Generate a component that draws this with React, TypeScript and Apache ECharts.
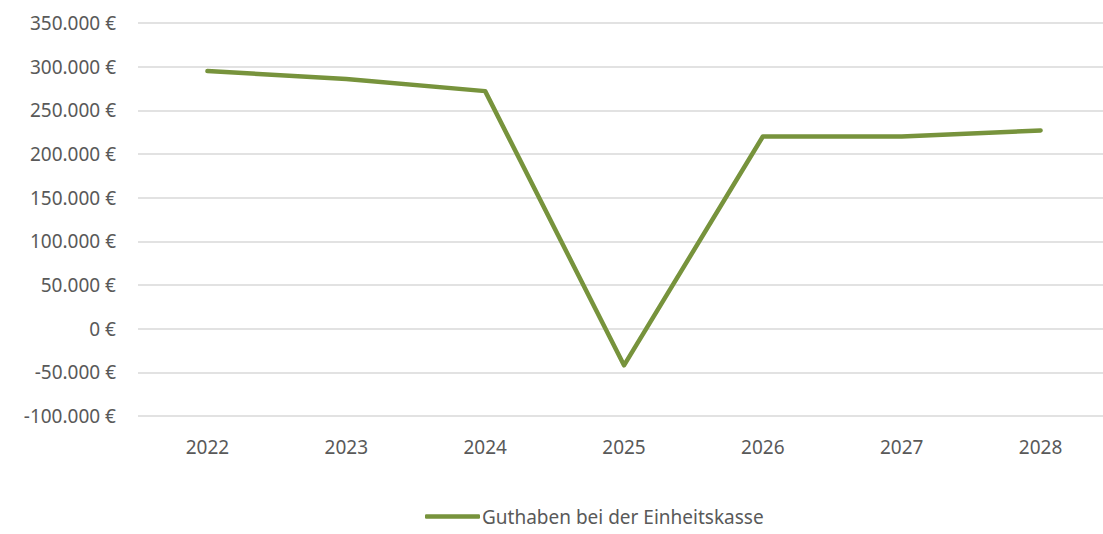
import React, { useEffect, useRef } from "react";
import * as echarts from "echarts";

const years = ["2022", "2023", "2024", "2025", "2026", "2027", "2028"];
const guthaben = [295000, 286000, 272000, -42000, 220000, 220000, 227000];
const seriesName = "Guthaben bei der Einheitskasse";

function fmt(v: number): string {
  const s = Math.abs(v).toString().replace(/\B(?=(\d{3})+(?!\d))/g, ".");
  return (v < 0 ? "-" : "") + s + " €";
}

export default function App() {
  const ref = useRef<HTMLDivElement>(null);
  useEffect(() => {
    const chart = echarts.init(ref.current!, null, { renderer: "svg" });
    const font = "Noto Sans";
    chart.setOption({
      animation: false,
      grid: { left: 138, right: 0, top: 23, bottom: 118, containLabel: false },
      xAxis: {
        type: "category",
        data: years,
        axisLine: { show: false },
        axisTick: { show: false },
        axisLabel: { color: "#595959", fontSize: 19, fontFamily: font, margin: 21 },
      },
      yAxis: {
        type: "value",
        min: -100000,
        max: 350000,
        interval: 50000,
        axisLine: { show: false },
        axisTick: { show: false },
        splitLine: { lineStyle: { color: "#d9d9d9", width: 1.5 } },
        axisLabel: {
          color: "#595959",
          fontSize: 19,
          fontFamily: font,
          margin: 22,
          formatter: (v: number) => fmt(v),
        },
      },
      legend: {
        left: 420,
        top: 502,
        itemWidth: 55,
        itemHeight: 4.5,
        itemGap: 4,
        textStyle: { color: "#595959", fontSize: 19, fontFamily: font, padding: [0, 0, 0, -3] },
        data: [{ name: seriesName, icon: "roundRect" }],
      },
      series: [
        {
          name: seriesName,
          type: "line",
          data: guthaben,
          symbol: "none",
          lineStyle: { color: "#77933C", width: 4.5, cap: "round", join: "round" },
          itemStyle: { color: "#77933C" },
        },
      ],
    });
    return () => chart.dispose();
  }, []);
  return (
    <div
      ref={ref}
      style={{ position: "fixed", left: 0, top: 0, width: 1110, height: 534, background: "#fff" }}
    />
  );
}
